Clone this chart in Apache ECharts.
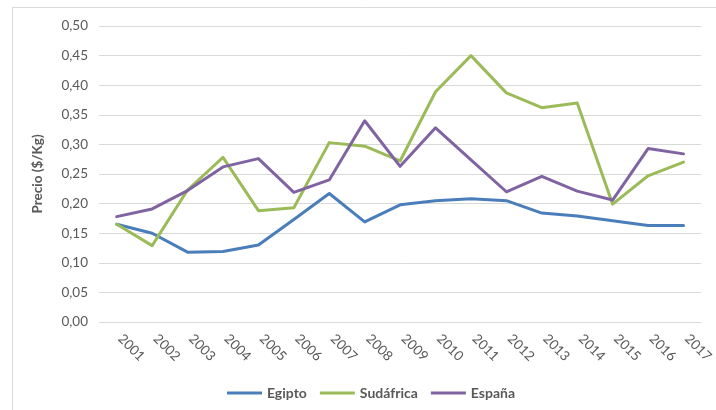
<!DOCTYPE html>
<html>
<head>
<meta charset="utf-8">
<script src="https://cdn.jsdelivr.net/npm/echarts@6/dist/echarts.min.js"></script>
<style>
html,body{margin:0;padding:0;background:#fff;}
#main{width:716px;height:410px;}
</style>
</head>
<body>
<div id="main"></div>
<script>
const years = ['2001','2002','2003','2004','2005','2006','2007','2008','2009','2010','2011','2012','2013','2014','2015','2016','2017'];
const egipto = [0.165,0.150,0.118,0.119,0.130,0.173,0.217,0.169,0.198,0.205,0.208,0.205,0.184,0.179,0.171,0.163,0.163];
const sudafrica = [0.165,0.129,0.223,0.278,0.188,0.193,0.303,0.297,0.272,0.389,0.450,0.387,0.362,0.370,0.199,0.247,0.270];
const espana = [0.178,0.191,0.222,0.262,0.276,0.219,0.240,0.340,0.263,0.328,0.274,0.220,0.246,0.221,0.206,0.293,0.284];
const yTicks = {min:0, max:0.5, interval:0.05};

const FONT = 'Lato, "Open Sans", sans-serif';
const TXT = '#595959';
const chart = echarts.init(document.getElementById('main'), null, {renderer:'canvas'});
function mk(name, data, color){
  return {name, type:'line', data, symbol:'none', smooth:false,
    lineStyle:{color, width:3, cap:'round', join:'round'}, itemStyle:{color}};
}
chart.setOption({
  animation:false,
  backgroundColor:'#fff',
  graphic:[{type:'rect', shape:{x:12.5,y:7.5,width:720,height:420}, style:{fill:'none', stroke:'#d9d9d9', lineWidth:1}, silent:true}],
  grid:{left:99, right:6, top:26, bottom:88},
  legend:{
    bottom:5, left:222, icon:'rect', itemWidth:35, itemHeight:3, itemGap:13,
    textStyle:{color:TXT, fontFamily:FONT, fontSize:14, fontWeight:'bold'},
    data:['Egipto','Sudáfrica','España']
  },
  xAxis:{
    type:'category', data:years, boundaryGap:true,
    axisLine:{show:false}, axisTick:{show:false},
    axisLabel:{rotate:-45, color:TXT, fontFamily:FONT, fontSize:13.5, margin:11, interval:0, padding:[0,0,0,5]}
  },
  yAxis:{
    type:'value', min:yTicks.min, max:yTicks.max, interval:yTicks.interval,
    name:'Precio ($/Kg)', nameLocation:'middle', nameGap:54,
    nameTextStyle:{color:TXT, fontFamily:FONT, fontSize:13.5, fontWeight:'bold'},
    axisLine:{show:false}, axisTick:{show:false},
    splitLine:{lineStyle:{color:'#d9d9d9', width:1}},
    axisLabel:{color:TXT, fontFamily:FONT, fontSize:13.5, margin:11,
      formatter:v=>v.toFixed(2).replace('.',',')}
  },
  series:[mk('Egipto',egipto,'#4A7EBB'), mk('Sudáfrica',sudafrica,'#9BBB59'), mk('España',espana,'#8064A2')]
});
</script>
</body>
</html>
